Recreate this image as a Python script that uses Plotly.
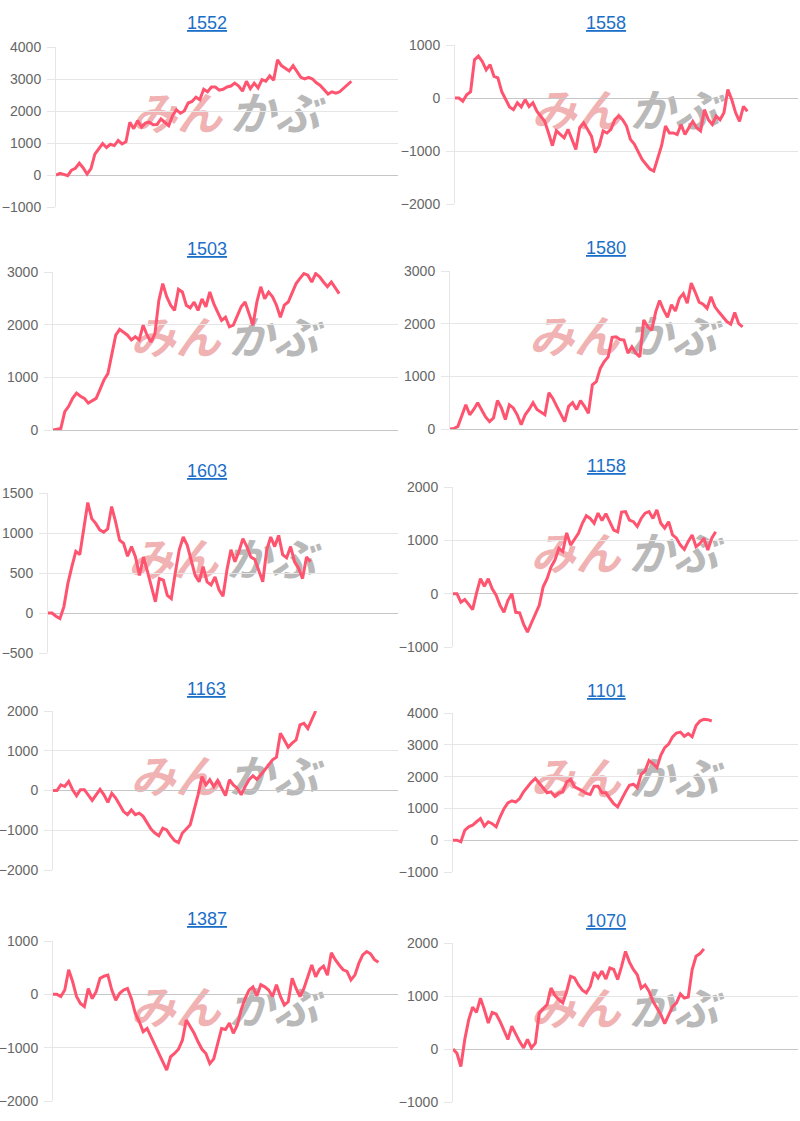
import plotly.graph_objects as go

TITLES = ["1552", "1558", "1503", "1580", "1603", "1158", "1163", "1101", "1387", "1070"]

S1552 = [0, 50, 20, -20, 150, 210, 370, 220, 30, 200, 650, 800, 980, 860, 960, 920, 1080, 970, 1040, 1650,
         1450, 1700, 1500, 1620, 1650, 1570, 1580, 1750, 1640, 1540, 1850, 2040, 1930, 2000, 2250, 2300, 2430,
         2350, 2680, 2600, 2750, 2750, 2650, 2680, 2750, 2780, 2870, 2780, 2620, 2930, 2700, 2870, 2720, 2980,
         2930, 3100, 2960, 3600, 3420, 3320, 3250, 3420, 3230, 3050, 3000, 3050, 3000, 2880, 2800, 2680, 2530,
         2600, 2560, 2600, 2700, 2830, 2930]
S1558 = [0, 0, -60, 60, 120, 720, 790, 690, 530, 630, 410, 380, 120, -30, -170, -220, -90, -170, -30, -160,
         -90, -250, -340, -440, -660, -900, -620, -690, -750, -590, -780, -970, -560, -470, -590, -720, -1030,
         -900, -620, -660, -590, -410, -340, -410, -530, -780, -870, -1030, -1160, -1250, -1340, -1380, -1160,
         -900, -530, -660, -660, -690, -500, -690, -560, -440, -560, -620, -220, -410, -500, -340, -410, -280,
         160, -30, -280, -440, -160, -250]
S1503 = [0, 10, 30, 350, 450, 600, 700, 640, 600, 510, 560, 600, 770, 950, 1070, 1450, 1800, 1910, 1850, 1800,
         1710, 1770, 1710, 1990, 1800, 1670, 1830, 2460, 2780, 2530, 2370, 2270, 2670, 2620, 2370, 2320, 2430,
         2270, 2490, 2340, 2620, 2400, 2240, 2080, 2140, 1960, 1990, 2180, 2340, 2430, 2210, 1990, 2430, 2720,
         2490, 2620, 2530, 2370, 2140, 2370, 2430, 2590, 2780, 2880, 2970, 2940, 2810, 2970, 2910, 2810, 2720,
         2810, 2700, 2590]
S1580 = [0, 10, 50, 270, 460, 270, 370, 500, 370, 230, 140, 210, 540, 400, 180, 460, 400, 270, 80, 270, 370,
         500, 370, 320, 270, 690, 580, 430, 270, 140, 430, 500, 370, 540, 430, 300, 840, 900, 1150, 1280, 1370,
         1740, 1750, 1700, 1690, 1440, 1560, 1440, 1370, 2070, 1940, 1870, 2220, 2440, 2260, 2120, 2360, 2240,
         2480, 2570, 2390, 2770, 2600, 2410, 2370, 2290, 2510, 2320, 2220, 2130, 2040, 1990, 2210, 2000, 1940]
S1603 = [0, 0, -40, -70, 80, 370, 580, 770, 730, 1040, 1380, 1180, 1120, 1040, 1010, 1050, 1330, 1140, 910, 870,
         710, 830, 700, 470, 700, 520, 330, 140, 430, 410, 220, 180, 500, 790, 950, 850, 660, 470, 390, 580, 390,
         350, 450, 290, 210, 540, 790, 640, 770, 930, 830, 700, 670, 520, 390, 790, 950, 830, 970, 730, 690, 830,
         640, 560, 430, 700, 640]
S1158 = [0, 0, -160, -110, -200, -300, 10, 280, 140, 280, 90, -30, -220, -350, -130, 0, -350, -360, -570, -720,
         -550, -380, -220, 130, 280, 500, 630, 850, 790, 1140, 910, 1020, 1130, 1320, 1460, 1410, 1320, 1510,
         1370, 1500, 1350, 1190, 1160, 1530, 1540, 1380, 1350, 1260, 1410, 1510, 1540, 1410, 1570, 1320, 1230,
         1350, 1100, 1040, 910, 830, 980, 1100, 880, 940, 1040, 820, 1040, 1160]
S1163 = [0, 0, 140, 100, 230, 20, -130, 20, 20, -110, -250, -110, 30, -110, -300, -70, -190, -360, -530, -610,
         -490, -610, -570, -650, -820, -970, -1070, -1140, -950, -990, -1140, -1260, -1310, -1070, -970, -860,
         -490, -110, 350, 140, 270, 100, 250, 60, -130, 270, 140, 60, -110, 100, 270, 370, 280, 390, 520, 640,
         770, 840, 1440, 1270, 1090, 1190, 1270, 1650, 1690, 1560, 1770, 2000]
S1101 = [0, 0, -50, 310, 420, 470, 580, 680, 440, 580, 520, 420, 730, 990, 1170, 1240, 1200, 1310, 1520, 1680,
         1830, 1940, 1780, 1620, 1490, 1520, 1380, 1490, 1520, 1830, 1910, 1680, 1620, 1550, 1470, 1440, 1700,
         1700, 1490, 1490, 1310, 1150, 1050, 1310, 1520, 1730, 1760, 1650, 2070, 2180, 2510, 2410, 2280, 2670,
         2910, 3020, 3250, 3370, 3400, 3270, 3350, 3250, 3610, 3750, 3800, 3790, 3750]
S1387 = [0, 0, -40, 80, 460, 240, -40, -170, -230, 110, -80, 50, 300, 340, 360, 80, -110, 20, 80, 110, -80,
         -360, -510, -700, -640, -800, -950, -1110, -1260, -1420, -1170, -1110, -1030, -860, -480, -610, -730,
         -890, -1030, -1110, -1300, -1210, -910, -640, -660, -540, -730, -580, -290, -80, 80, 140, -30, 180, 140,
         80, -40, 180, -40, -200, -140, 300, 110, -40, 110, 320, 550, 330, 470, 530, 360, 780, 650, 550, 460,
         430, 270, 360, 580, 740, 800, 760, 650, 600]
S1070 = [0, -80, -330, 180, 550, 790, 690, 960, 740, 490, 690, 660, 520, 360, 180, 430, 270, 140, 20, 180, 20,
         110, 680, 770, 840, 1150, 1010, 930, 870, 1090, 1370, 1340, 1210, 1110, 1060, 1180, 1450, 1340, 1470,
         1320, 1530, 1500, 1310, 1560, 1840, 1640, 1500, 1400, 1150, 1210, 1090, 900, 770, 650, 480, 650, 800,
         870, 1040, 960, 980, 1500, 1750, 1800, 1890]

SERIES = [S1552, S1558, S1503, S1580, S1603, S1158, S1163, S1101, S1387, S1070]

# y-axis (min, max, step) per panel
Y_MIN = [-1000, -2000, 0, 0, -500, -1000, -2000, -1000, -2000, -1000]
Y_MAX = [4000, 1000, 3000, 3000, 1500, 2000, 2000, 4000, 1000, 2000]
Y_STEP = [1000, 1000, 1000, 1000, 500, 1000, 1000, 1000, 1000, 1000]
X_SLOTS = 88

# ---- layout (pixels) ----
W, H = 800, 1121
# (left, right, top, bottom) of each plot area
BOXES = [
    (56, 398, 47, 207), (455, 798, 45, 204),
    (53, 398, 272, 430), (450, 798, 271, 429),
    (48, 398, 493, 653), (453, 798, 487, 647),
    (53, 398, 711, 870), (453, 798, 713, 872),
    (53, 398, 941, 1101), (453, 798, 943, 1102),
]
TITLE_POS = [(207, 23), (606, 23), (207, 249), (606, 248), (207, 471), (606, 466),
             (207, 689), (606, 691), (207, 919), (606, 921)]

LINE_COLOR = "rgb(255,84,112)"
GRID = "#e6e6e6"
FONT = "Liberation Sans, Arial, sans-serif"


def px(x):
    return x / W


def py(y):
    return 1 - y / H


fig = go.Figure()
layout = dict(
    width=W, height=H, margin=dict(l=0, r=0, t=0, b=0, pad=0, autoexpand=False),
    paper_bgcolor="white", plot_bgcolor="white", showlegend=False,
    font=dict(family=FONT),
)
annotations = []
shapes = []

for i, (name, ys) in enumerate(zip(TITLES, SERIES)):
    k = "" if i == 0 else str(i + 1)
    l, r, t, b = BOXES[i]
    fig.add_trace(go.Scatter(
        x=list(range(len(ys))), y=ys, mode="lines",
        line=dict(color=LINE_COLOR, width=3), xaxis="x" + k, yaxis="y" + k,
        hoverinfo="skip",
    ))
    layout["xaxis" + k] = dict(
        domain=[px(l), px(r)], range=[0, X_SLOTS], anchor="y" + k,
        showgrid=False, zeroline=False, showticklabels=False, showline=False, ticks="",
        fixedrange=True, automargin=False,
    )
    layout["yaxis" + k] = dict(
        domain=[py(b), py(t)], range=[Y_MIN[i], Y_MAX[i]], anchor="x" + k,
        tickmode="linear", tick0=Y_MIN[i], dtick=Y_STEP[i],
        showgrid=True, gridcolor=GRID, gridwidth=1,
        zeroline=True, zerolinecolor="#c6c6c6", zerolinewidth=1,
        showline=True, linecolor=GRID, linewidth=1,
        ticks="outside", ticklen=8, tickcolor=GRID, tickwidth=1,
        tickfont=dict(family=FONT, size=14, color="#666666"),
        ticklabelstandoff=3, fixedrange=True, automargin=False,
    )
    tx, ty = TITLE_POS[i]
    annotations.append(dict(
        text="<u>%s</u>" % name, x=px(tx), y=py(ty), xref="paper", yref="paper",
        xanchor="center", yanchor="middle", showarrow=False,
        font=dict(family=FONT, size=18, color="#1b6fc8"),
    ))
    # watermark (logo) behind the line
    cx = (l + r) / 2 - 2
    cy = (t + b) / 2 - 10
    for dx, txt, col in ((-48, "みん", "#f0b2b2"), (50, "かぶ", "#b9b9b9")):
        shapes.append(dict(
            type="rect", xref="paper", yref="paper", layer="between",
            x0=px(cx + dx - 50), x1=px(cx + dx + 50), y0=py(cy + 20), y1=py(cy - 20),
            line=dict(width=0), fillcolor="rgba(0,0,0,0)",
            label=dict(text=txt, textposition="middle center",
                       font=dict(family="Noto Sans CJK JP", size=45, color=col,
                                 weight="bold", style="italic")),
        ))

layout["annotations"] = annotations
layout["shapes"] = shapes
fig.update_layout(**layout)
fig.write_html(
    "out.html",
    config={"displayModeBar": False},
    post_script="document.body.style.margin='0';document.documentElement.style.margin='0';"
                "document.body.style.overflow='hidden';",
)
